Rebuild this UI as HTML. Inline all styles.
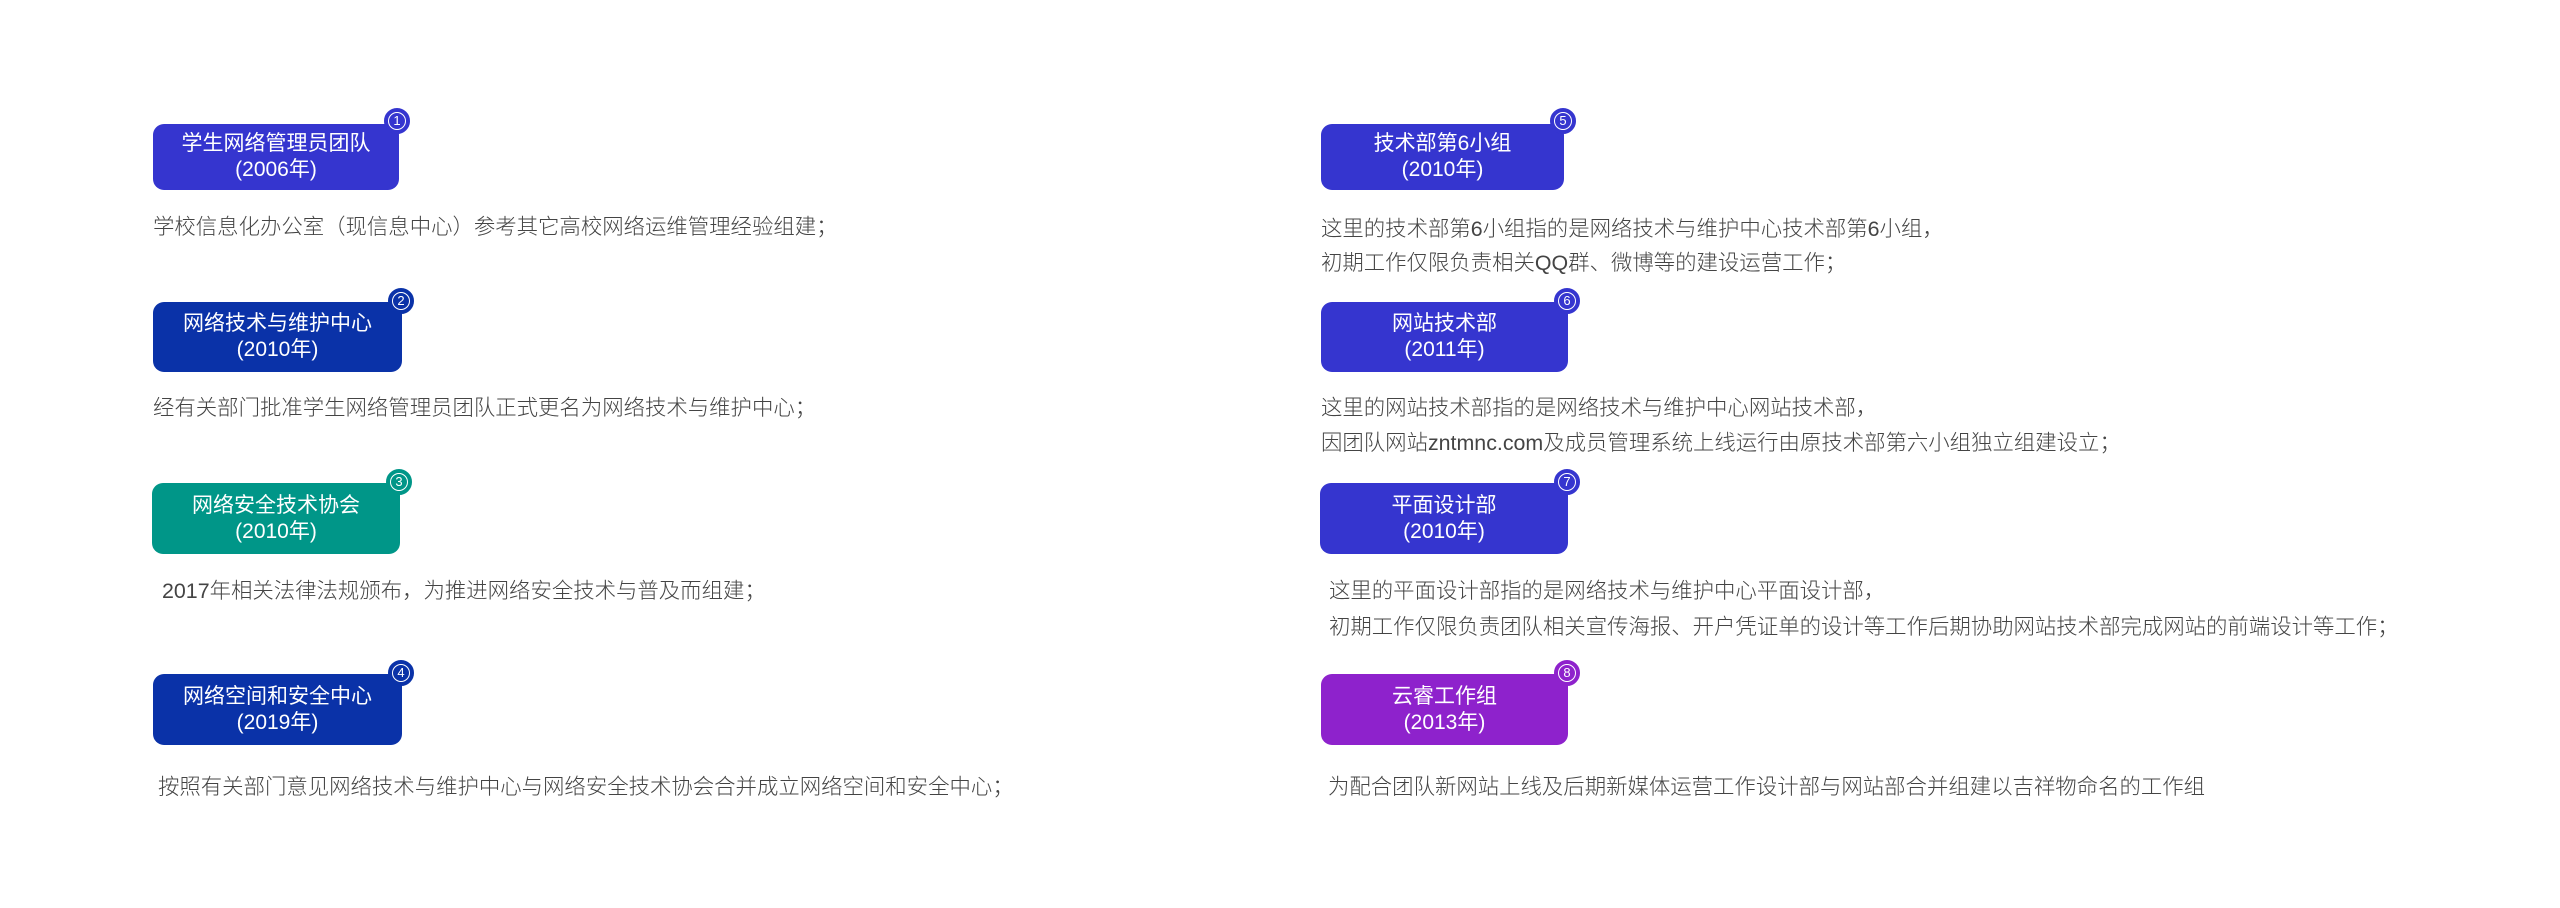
<!DOCTYPE html>
<html><head><meta charset="utf-8"><style>
body{margin:0;width:2560px;height:908px;background:#fff;position:relative;overflow:hidden;font-family:"Liberation Sans","Noto Sans CJK SC",sans-serif}
.b{position:absolute;border-radius:11px;color:#fff;font-size:21px;line-height:26px;text-align:center;display:flex;flex-direction:column;justify-content:center}
.c{position:absolute;width:22px;height:22px;border-radius:50%;border:2px solid;box-sizing:content-box;}
.c span{position:absolute;left:2px;top:2px;width:18px;height:18px;border:1.5px solid #fff;border-radius:50%;box-sizing:border-box;color:#fff;font-size:13px;line-height:15px;text-align:center}
.t{position:absolute;font-size:21.4px;color:#444;line-height:34px;font-weight:300;white-space:nowrap}
.p{background:#3535cf}.d{background:#0a32a8}.g{background:#009688}.v{background:#8e22cc}
</style></head><body>
<div class="b p" style="left:153px;top:124px;width:246px;height:66px">学生网络管理员团队<br>(2006年)</div>
<div class="c p" style="left:384px;top:108px;border-color:#3535cf"><span>1</span></div>
<div class="t" style="left:153px;top:210px">学校信息化办公室（现信息中心）参考其它高校网络运维管理经验组建；</div>

<div class="b d" style="left:153px;top:302px;width:249px;height:70px">网络技术与维护中心<br>(2010年)</div>
<div class="c d" style="left:388px;top:288px;border-color:#0a32a8"><span>2</span></div>
<div class="t" style="left:153px;top:391px">经有关部门批准学生网络管理员团队正式更名为网络技术与维护中心；</div>

<div class="b g" style="left:152px;top:483px;width:248px;height:71px">网络安全技术协会<br>(2010年)</div>
<div class="c g" style="left:386px;top:469px;border-color:#009688"><span>3</span></div>
<div class="t" style="left:162px;top:574px">2017年相关法律法规颁布，为推进网络安全技术与普及而组建；</div>

<div class="b d" style="left:153px;top:674px;width:249px;height:71px">网络空间和安全中心<br>(2019年)</div>
<div class="c d" style="left:388px;top:660px;border-color:#0a32a8"><span>4</span></div>
<div class="t" style="left:158px;top:770px">按照有关部门意见网络技术与维护中心与网络安全技术协会合并成立网络空间和安全中心；</div>

<div class="b p" style="left:1321px;top:124px;width:243px;height:66px">技术部第6小组<br>(2010年)</div>
<div class="c p" style="left:1550px;top:108px;border-color:#3535cf"><span>5</span></div>
<div class="t" style="left:1321px;top:212px">这里的技术部第6小组指的是网络技术与维护中心技术部第6小组，</div>
<div class="t" style="left:1321px;top:246px">初期工作仅限负责相关QQ群、微博等的建设运营工作；</div>

<div class="b p" style="left:1321px;top:302px;width:247px;height:70px">网站技术部<br>(2011年)</div>
<div class="c p" style="left:1554px;top:288px;border-color:#3535cf"><span>6</span></div>
<div class="t" style="left:1321px;top:391px">这里的网站技术部指的是网络技术与维护中心网站技术部，</div>
<div class="t" style="left:1321px;top:426px">因团队网站zntmnc.com及成员管理系统上线运行由原技术部第六小组独立组建设立；</div>

<div class="b p" style="left:1320px;top:483px;width:248px;height:71px">平面设计部<br>(2010年)</div>
<div class="c p" style="left:1554px;top:469px;border-color:#3535cf"><span>7</span></div>
<div class="t" style="left:1329px;top:574px">这里的平面设计部指的是网络技术与维护中心平面设计部，</div>
<div class="t" style="left:1329px;top:610px">初期工作仅限负责团队相关宣传海报、开户凭证单的设计等工作后期协助网站技术部完成网站的前端设计等工作；</div>

<div class="b v" style="left:1321px;top:674px;width:247px;height:71px">云睿工作组<br>(2013年)</div>
<div class="c v" style="left:1554px;top:660px;border-color:#8e22cc"><span>8</span></div>
<div class="t" style="left:1328px;top:770px">为配合团队新网站上线及后期新媒体运营工作设计部与网站部合并组建以吉祥物命名的工作组</div>
</body></html>
